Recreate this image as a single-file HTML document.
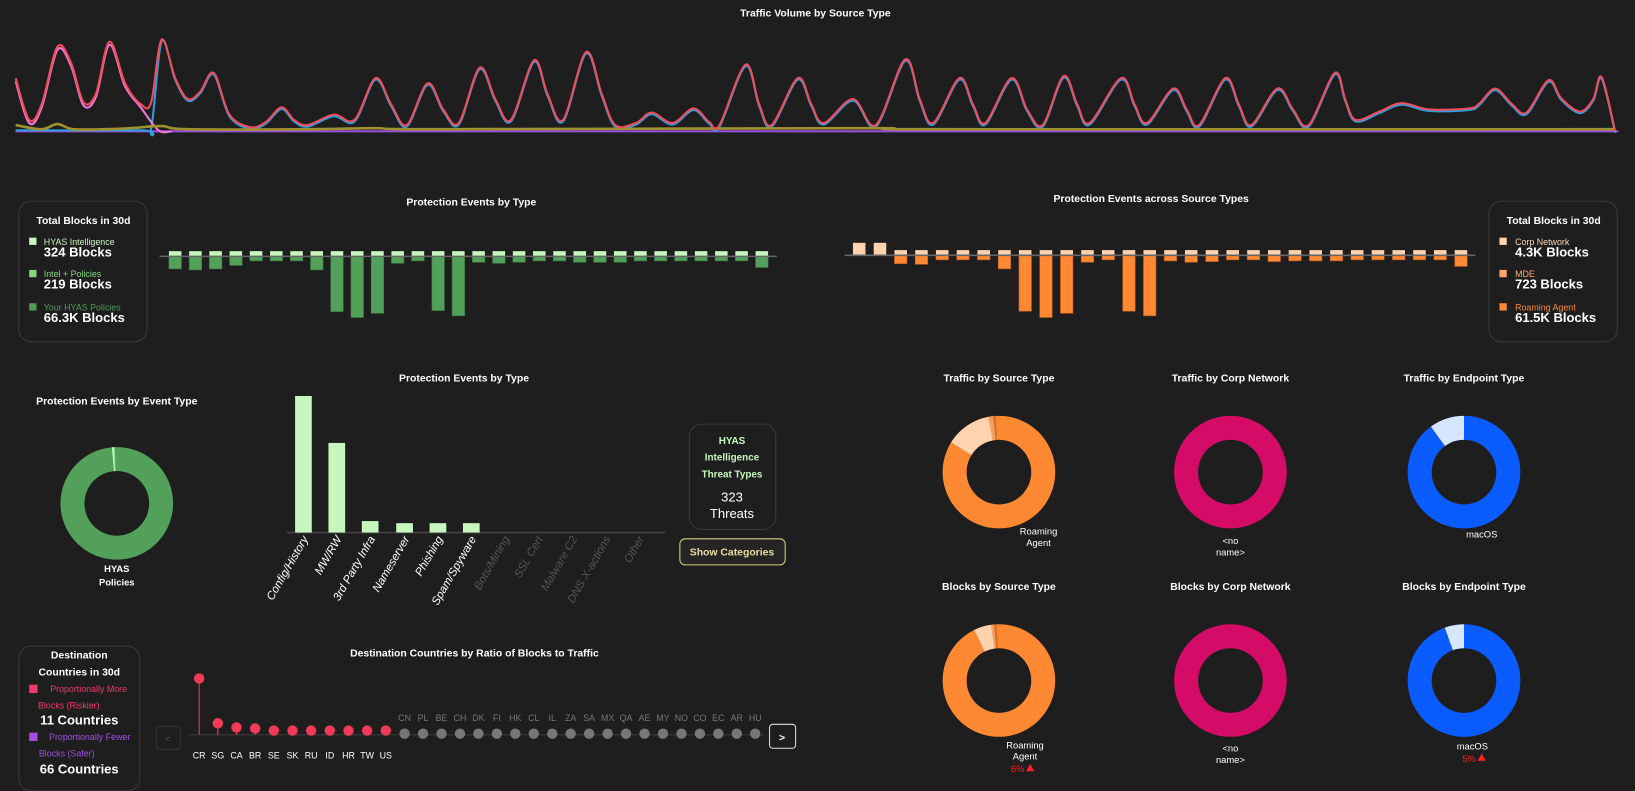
<!DOCTYPE html>
<html><head><meta charset="utf-8"><style>
html,body{margin:0;padding:0;background:#1e1e1e;overflow:hidden}
svg{display:block}
text{font-family:"Liberation Sans",sans-serif;fill:#fff}
.t{font-size:10px;font-weight:bold;text-anchor:middle}
</style></head><body>
<svg id="s" width="1635" height="791" viewBox="0 0 1568 759" preserveAspectRatio="none" xmlns="http://www.w3.org/2000/svg">
<rect width="1568" height="759" fill="#1e1e1e"/>
<text class="t" x="782" y="16">Traffic Volume by Source Type</text>
<g id="line"></g>

<rect x="18" y="193" width="123" height="135" rx="12" fill="none" stroke="#3a3a3a"/>
<text x="80" y="215" font-size="10" font-weight="bold" text-anchor="middle">Total Blocks in 30d</text>
<rect x="28" y="228" width="7" height="7" fill="#c7f7bd"/><text x="42" y="235" font-size="8.5" style="fill:#c7f7bd">HYAS Intelligence</text>
<text x="42" y="246" font-size="12.5" font-weight="bold">324 Blocks</text>
<rect x="28" y="259" width="7" height="7" fill="#86d67e"/><text x="42" y="266" font-size="8.5" style="fill:#86d67e">Intel + Policies</text>
<text x="42" y="277" font-size="12.5" font-weight="bold">219 Blocks</text>
<rect x="28" y="291" width="7" height="7" fill="#4f9a55"/><text x="42" y="298" font-size="8.5" style="fill:#4f9a55">Your HYAS Policies</text>
<text x="42" y="309" font-size="12.5" font-weight="bold">66.3K Blocks</text>

<text class="t" x="452" y="197">Protection Events by Type</text>
<g id="bl"></g>
<text class="t" x="1104" y="194">Protection Events across Source Types</text>
<g id="br"></g>

<rect x="1428" y="193" width="123" height="135" rx="12" fill="none" stroke="#3a3a3a"/>
<text x="1490" y="215" font-size="10" font-weight="bold" text-anchor="middle">Total Blocks in 30d</text>
<rect x="1438" y="228" width="7" height="7" fill="#ffd3b0"/><text x="1453" y="235" font-size="8.5" style="fill:#ffd3b0">Corp Network</text>
<text x="1453" y="246" font-size="12.5" font-weight="bold">4.3K Blocks</text>
<rect x="1438" y="259" width="7" height="7" fill="#ffa86a"/><text x="1453" y="266" font-size="8.5" style="fill:#ffa86a">MDE</text>
<text x="1453" y="277" font-size="12.5" font-weight="bold">723 Blocks</text>
<rect x="1438" y="291" width="7" height="7" fill="#ff8833"/><text x="1453" y="298" font-size="8.5" style="fill:#ff8833">Roaming Agent</text>
<text x="1453" y="309" font-size="12.5" font-weight="bold">61.5K Blocks</text>

<text class="t" x="112" y="388">Protection Events by Event Type</text>
<text x="112" y="549" font-size="9" font-weight="bold" text-anchor="middle">HYAS</text>
<text x="112" y="562" font-size="9" font-weight="bold" text-anchor="middle">Policies</text>
<text class="t" x="445" y="366">Protection Events by Type</text>
<line x1="275" y1="511" x2="638" y2="511" stroke="#444" stroke-width="1.5"/>
<g fill="#c7f7bd">
<rect x="283" y="380" width="16" height="131"/>
<rect x="315" y="425" width="16" height="86"/>
<rect x="347" y="500" width="16" height="11"/>
<rect x="380" y="502" width="16" height="9"/>
<rect x="412" y="502" width="16" height="9"/>
<rect x="444" y="502" width="16" height="9"/>
</g>
<g font-size="11" font-style="italic" text-anchor="end">
<text transform="translate(296,517) rotate(-60)">Config/History</text>
<text transform="translate(328,517) rotate(-60)">MW/RW</text>
<text transform="translate(360,517) rotate(-60)">3rd Party Infra</text>
<text transform="translate(393,517) rotate(-60)">Nameserver</text>
<text transform="translate(425,517) rotate(-60)">Phishing</text>
<text transform="translate(457,517) rotate(-60)">Spam/Spyware</text>
<text transform="translate(489,517) rotate(-60)" style="fill:#555">Bots/Mining</text>
<text transform="translate(521,517) rotate(-60)" style="fill:#555">SSL Cert</text>
<text transform="translate(554,517) rotate(-60)" style="fill:#555">Malware C2</text>
<text transform="translate(586,517) rotate(-60)" style="fill:#555">DNS X-actions</text>
<text transform="translate(618,517) rotate(-60)" style="fill:#555">Other</text>
</g>
<rect x="661" y="407" width="83" height="101" rx="12" fill="none" stroke="#3a3a3a"/>
<g font-size="9.5" font-weight="bold" text-anchor="middle">
<text x="702" y="426" style="fill:#c7f7bd">HYAS</text>
<text x="702" y="442" style="fill:#c7f7bd">Intelligence</text>
<text x="702" y="458" style="fill:#c7f7bd">Threat Types</text>
</g>
<text x="702" y="481" font-size="12.5" text-anchor="middle">323</text>
<text x="702" y="497" font-size="12.5" text-anchor="middle">Threats</text>
<rect x="652" y="517" width="101" height="25" rx="5" fill="#252525" stroke="#d8cf80"/>
<text x="702" y="533" font-size="10" font-weight="bold" text-anchor="middle" style="fill:#e8dfa0">Show Categories</text>

<g id="donuts"></g>
<text class="t" x="958" y="366">Traffic by Source Type</text>
<text class="t" x="1180" y="366">Traffic by Corp Network</text>
<text class="t" x="1404" y="366">Traffic by Endpoint Type</text>
<text class="t" x="958" y="566">Blocks by Source Type</text>
<text class="t" x="1180" y="566">Blocks by Corp Network</text>
<text class="t" x="1404" y="566">Blocks by Endpoint Type</text>
<g font-size="9" text-anchor="middle">
<text x="996" y="513">Roaming</text><text x="996" y="524">Agent</text>
<text x="1180" y="522">&lt;no</text><text x="1180" y="533">name&gt;</text>
<text x="1421" y="516">macOS</text>
<text x="983" y="718">Roaming</text><text x="983" y="729">Agent</text>
<text x="976" y="741" style="fill:#ff2020">6%</text><path d="M984 740 L988 733 L992 740Z" fill="#ff2020"/>
<text x="1180" y="721">&lt;no</text><text x="1180" y="732">name&gt;</text>
<text x="1412" y="719">macOS</text>
<text x="1409" y="731" style="fill:#ff2020">5%</text><path d="M1417 730 L1421 723 L1425 730Z" fill="#ff2020"/>
</g>

<rect x="18" y="620" width="116" height="139" rx="12" fill="none" stroke="#3a3a3a"/>
<g text-anchor="middle">
<text x="76" y="632" font-size="10" font-weight="bold">Destination</text>
<text x="76" y="648" font-size="10" font-weight="bold">Countries in 30d</text>
<text x="85" y="664" font-size="8.5" style="fill:#f03a68">Proportionally More</text>
<text x="66" y="680" font-size="8.5" style="fill:#f03a68">Blocks (Riskier)</text>
<text x="76" y="695" font-size="12.5" font-weight="bold">11 Countries</text>
<text x="86" y="710" font-size="8.5" style="fill:#a050e0">Proportionally Fewer</text>
<text x="64" y="726" font-size="8.5" style="fill:#a050e0">Blocks (Safer)</text>
<text x="76" y="742" font-size="12.5" font-weight="bold">66 Countries</text>
</g>
<rect x="28" y="657" width="8" height="8" fill="#f03a68"/>
<rect x="28" y="703" width="8" height="8" fill="#a050e0"/>
<text class="t" x="455" y="630">Destination Countries by Ratio of Blocks to Traffic</text>
<rect x="150" y="697" width="23" height="22" rx="3" fill="#1e1e1e" stroke="#333"/>
<text x="161" y="712" font-size="9" text-anchor="middle" style="fill:#555">&lt;</text>
<line x1="180" y1="705" x2="733" y2="705" stroke="#333" stroke-width="1.5"/>
<g id="lol"></g>
<rect x="738" y="695" width="25" height="23" rx="3" fill="#1e1e1e" stroke="#ddd"/>
<text x="750" y="711" font-size="10" font-weight="bold" text-anchor="middle">&gt;</text>
</svg>
<script>
var NS="http://www.w3.org/2000/svg";
function el(p,t,a){var e=document.createElementNS(NS,t);for(var k in a)e.setAttribute(k,a[k]);p.appendChild(e);return e;}
function smooth(pts){var d="M"+pts[0][0]+" "+pts[0][1];for(var i=0;i<pts.length-1;i++){var p0=pts[i-1]||pts[i],p1=pts[i],p2=pts[i+1],p3=pts[i+2]||p2;
var c1x=p1[0]+(p2[0]-p0[0])/6,c1y=p1[1]+(p2[1]-p0[1])/6,c2x=p2[0]-(p3[0]-p1[0])/6,c2y=p2[1]-(p3[1]-p1[1])/6;
d+=" C"+c1x.toFixed(1)+" "+c1y.toFixed(1)+" "+c2x.toFixed(1)+" "+c2y.toFixed(1)+" "+p2[0]+" "+p2[1];}return d;}
var red=[[15,75],[28,115],[40,100],[55,45],[68,60],[80,98],[92,90],[105,40],[120,80],[135,100],[145,98],[155,38],[168,75],[180,95],[192,88],[205,70],[220,110],[240,122],[255,117],[270,103],[282,115],[295,120],[320,110],[340,115],[360,75],[375,100],[390,120],[410,80],[425,105],[440,118],[460,65],[475,95],[490,115],[512,58],[525,90],[540,115],[562,50],[577,90],[590,120],[610,118],[625,108],[645,118],[665,104],[680,117],[690,120],[715,62],[728,100],[740,120],[765,75],[778,100],[790,118],[818,95],[840,120],[868,57],[882,95],[895,118],[920,75],[933,100],[945,118],[970,75],[985,105],[1000,120],[1020,73],[1033,100],[1045,118],[1075,75],[1088,100],[1100,118],[1125,85],[1138,105],[1150,120],[1175,75],[1188,100],[1200,120],[1225,85],[1240,105],[1255,120],[1280,70],[1290,95],[1300,115],[1323,107],[1344,99],[1371,105],[1409,104],[1419,99],[1434,85],[1450,100],[1464,108],[1485,77],[1497,94],[1515,107],[1528,95],[1536,74],[1549,126]];
var L=document.getElementById("line");
el(L,"line",{x1:15,y1:126,x2:1552,y2:126,stroke:"#9b4fd8","stroke-width":2});
var blue=[[15,125],[135,125],[145,123]].concat(red.filter(function(p){return p[0]>=155}).map(function(p){return [p[0],p[1]+1.5]}));
el(L,"path",{d:smooth(blue),fill:"none",stroke:"#2aa0e0","stroke-width":2});
var pink=red.filter(function(p){return p[0]<=140}).map(function(p){return [p[0],p[1]+3]});pink.push([152,125]);pink.push([165,126]);
el(L,"path",{d:smooth(pink),fill:"none",stroke:"#f07ad8","stroke-width":2});
el(L,"path",{d:smooth([[15,120],[40,124],[55,119],[70,124],[100,124],[125,123],[155,121],[180,124],[300,124],[360,123],[420,124],[830,123],[900,124],[1549,124]]),fill:"none",stroke:"#a09030","stroke-width":2.5});
el(L,"path",{d:smooth(red),fill:"none",stroke:"#f04c5c","stroke-width":2});

var bl=document.getElementById("bl");
var dl=[272,275,272,262,249,249,249,275,395,412,400,256,249,392,407,253,256,253,249,249,253,253,253,249,249,249,249,249,249,268];
for(var i=0;i<30;i++){var x=168+i*19.4-6;var d=(dl[i]-236)/3;
el(bl,"rect",{x:x,y:246,width:12,height:d,fill:"#52a05a",stroke:"#3c7a42","stroke-width":0.6});
el(bl,"rect",{x:x,y:241,width:12,height:5,fill:"#c7f7bd"});}
el(bl,"line",{x1:153,y1:246,x2:745,y2:246,stroke:"#666","stroke-width":1.5});
var br=document.getElementById("br");
var dr=[0,0,258,260,247,247,247,273,395,413,401,254,247,395,408,250,254,252,247,247,252,250,250,250,247,247,247,247,247,266];
for(var i=0;i<30;i++){var x=824+i*19.9-6;
if(i<2){el(br,"rect",{x:x,y:233,width:12,height:12,fill:"#ffd3b0"});continue;}
var d=(dr[i]-234)/3;
el(br,"rect",{x:x,y:245,width:12,height:d,fill:"#ff8833",stroke:"#b85a20","stroke-width":0.6});
el(br,"rect",{x:x,y:240,width:12,height:5,fill:"#ffd3b0"});}
el(br,"line",{x1:810,y1:245,x2:1415,y2:245,stroke:"#666","stroke-width":1.5});

var D=document.getElementById("donuts");
function arc(cx,cy,R,r,a0,a1,col){var t=function(a,rr){var q=(a-90)*Math.PI/180;return [cx+rr*Math.cos(q),cy+rr*Math.sin(q)];};
var large=(a1-a0)>180?1:0,p1=t(a0,R),p2=t(a1,R),p3=t(a1,r),p4=t(a0,r);
el(D,"path",{d:"M"+p1+" A"+R+" "+R+" 0 "+large+" 1 "+p2+" L"+p3+" A"+r+" "+r+" 0 "+large+" 0 "+p4+"Z",fill:col});}
function ring(cx,cy,col){arc(cx,cy,54,31,0,359.99,col);}
ring(112,483,"#52a05a");arc(112,483,54,31,-5,-3,"#c7f7bd");arc(112,483,54,31,-3,-2,"#86d67e");
ring(958,453,"#ff8833");arc(958,453,54,31,-58,-11,"#ffd3b0");arc(958,453,54,31,-11,-6,"#f0a060");arc(958,453,54,31,-6,-3,"#d87028");
ring(958,653,"#ff8833");arc(958,653,54,31,-26,-8,"#ffd3b0");arc(958,653,54,31,-8,-5,"#f0a060");arc(958,653,54,31,-5,-2,"#d87028");
ring(1180,453,"#d40c68");ring(1180,653,"#d40c68");
ring(1404,453,"#0a5cff");arc(1404,453,54,31,-36,0,"#d6e6ff");
ring(1404,653,"#0a5cff");arc(1404,653,54,31,-20,0,"#d6e6ff");

var G=document.getElementById("lol");
var rc=["CR","SG","CA","BR","SE","SK","RU","ID","HR","TW","US"],ry=[651,694,698,699,701,701,701,701,701,701,701];
for(var i=0;i<11;i++){var x=191+i*17.9;el(G,"line",{x1:x,y1:ry[i],x2:x,y2:705,stroke:"#f03a58","stroke-width":1});
el(G,"circle",{cx:x,cy:ry[i],r:5,fill:"#f03a58"});var t=el(G,"text",{x:x,y:728,"font-size":8.5,"text-anchor":"middle"});t.textContent=rc[i];}
var gc=["CN","PL","BE","CH","DK","FI","HK","CL","IL","ZA","SA","MX","QA","AE","MY","NO","CO","EC","AR","HU"];
for(var i=0;i<20;i++){var x=388+i*17.7;el(G,"circle",{cx:x,cy:704,r:5,fill:"#777"});
var t=el(G,"text",{x:x,y:692,"font-size":8.5,"text-anchor":"middle",style:"fill:#777"});t.textContent=gc[i];}
</script>
</body></html>
